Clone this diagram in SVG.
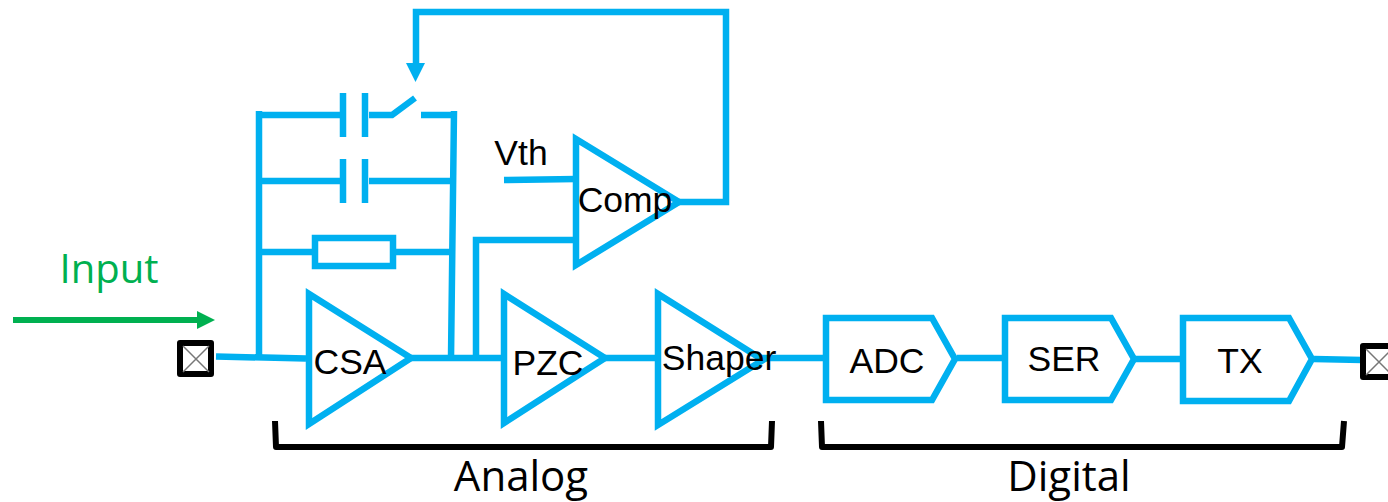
<svg xmlns="http://www.w3.org/2000/svg" width="1388" height="502" viewBox="0 0 1388 502">
<style>
.w{fill:none;stroke:#00B0F0;stroke-width:6.500}
.s{fill:#fff;stroke:#00B0F0;stroke-width:6.500}
.t{font-family:"Liberation Sans",Arial,sans-serif;font-size:35.500px;fill:#000;text-anchor:middle}
.u{font-family:"Open Sans","Noto Sans",sans-serif;font-size:42px;fill:#000;text-anchor:middle}
.b{fill:none;stroke:#000;stroke-width:6;stroke-linejoin:round}
.x{fill:#fff;stroke:#000;stroke-width:6;stroke-linejoin:round}
.c{stroke:#777;stroke-width:1.500}
</style>
<g id="connectors">
<path class="w" d="M216 356.500L306 358.500M259 358V111M259 115H343M369 115H392L415 98M421 115H457M454 111L451 358M259 181H343M369 181H451M259 252H315M394 252H451M408 358H503M476 358V240H576M504 180L576 179M602 358H657M760 358H825M957 358H1003M1135 359H1181M1314 359L1362 360M678 202H726V12H416V66"/>
<path d="M406 63H425L415.500 82Z" fill="#00B0F0"/>
<path d="M13 320H200" fill="none" stroke="#00B050" stroke-width="6"/>
<path d="M197 311L215 320L197 329Z" fill="#00B050"/>
</g>
<g id="cap1"><path class="w" d="M343 93V137M365 93V137"/></g>
<g id="cap2"><path class="w" d="M343 159V203M365 159V203"/></g>
<g id="resistor"><rect class="s" x="315" y="238" width="78" height="28"/></g>
<g id="input-pad"><rect class="x" x="180" y="343" width="31" height="31"/><path class="c" d="M183 346L209 372M209 346L183 372"/></g>
<g id="output-pad"><rect class="x" x="1363" y="346" width="31" height="31"/><path class="c" d="M1366 349L1392 375M1392 349L1366 375"/></g>
<g id="input-label"><text x="109" y="283" font-family="'Open Sans','Noto Sans',sans-serif" font-size="40" fill="#00B050" text-anchor="middle">Input</text></g>
<g id="vth"><text x="521" y="165" class="t">Vth</text></g>
<g id="comp"><path class="s" d="M576 139V265L679 202Z"/><text x="625" y="212" class="t">Comp</text></g>
<g id="csa"><path class="s" d="M309 294V424L411 358Z"/><text x="350" y="374" class="t">CSA</text></g>
<g id="pzc"><path class="s" d="M504 294V423L605 358Z"/><text x="548" y="375" class="t">PZC</text></g>
<g id="shaper"><path class="s" d="M658 294V425L763 360Z"/><text x="719" y="370" class="t">Shaper</text></g>
<g id="adc"><path class="s" d="M826 318H932L955 359L932 400H826Z"/><text x="887" y="373" class="t">ADC</text></g>
<g id="ser"><path class="s" d="M1005 318H1111L1134 359L1111 400H1005Z"/><text x="1064" y="371" class="t">SER</text></g>
<g id="tx"><path class="s" d="M1183 318H1289L1312 359L1289 401H1183Z"/><text x="1240" y="373" class="t">TX</text></g>
<g id="analog"><path class="b" d="M275 421L276 447H771L772 421"/><text x="521" y="491" class="u">Analog</text></g>
<g id="digital"><path class="b" d="M821 421L822 447H1342L1344 421"/><text x="1069" y="491" class="u">Digital</text></g>
</svg>
